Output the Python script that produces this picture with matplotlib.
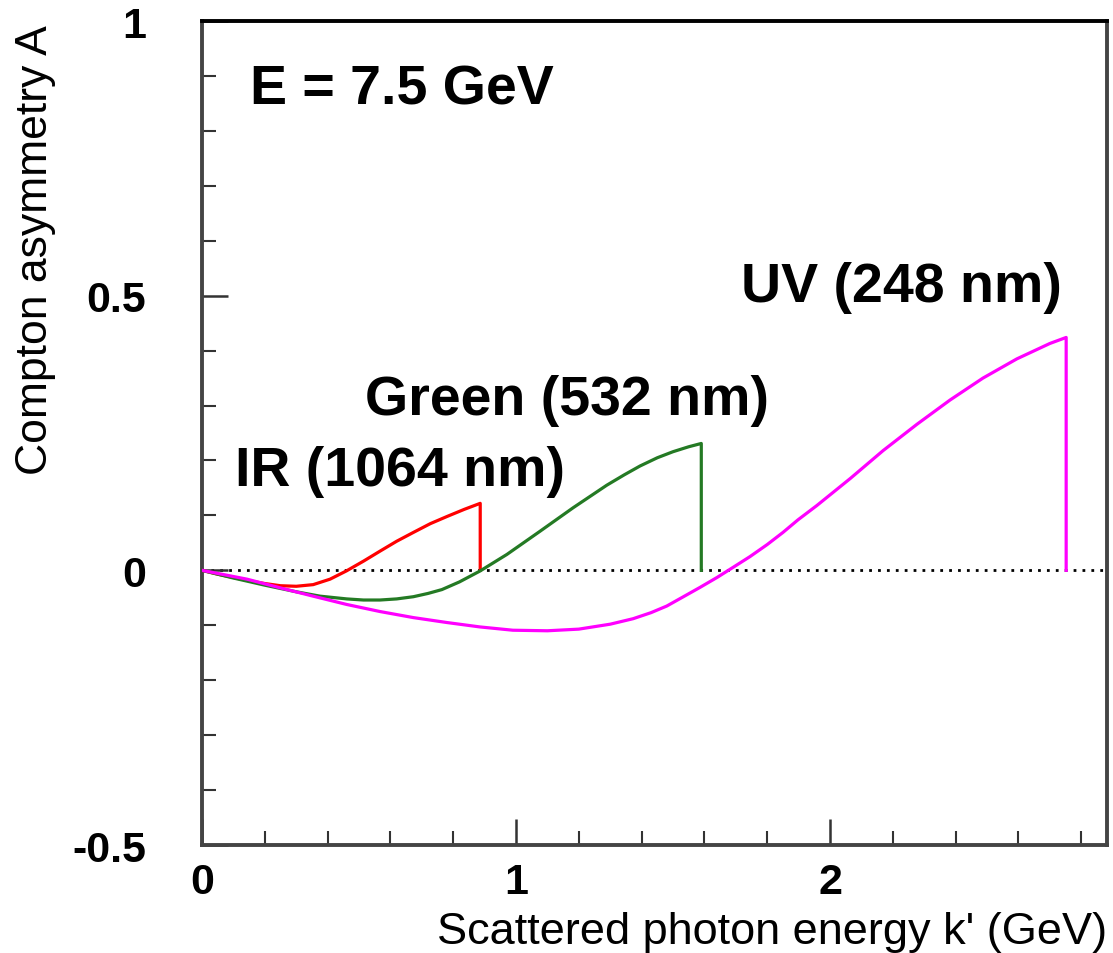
import matplotlib
matplotlib.use("Agg")
import matplotlib.pyplot as plt
from matplotlib.ticker import MultipleLocator

plt.rcParams['font.family'] = ['Liberation Sans', 'DejaVu Sans']

# Data
ir_k = [0, 0.05, 0.1, 0.15, 0.2, 0.25, 0.3, 0.354, 0.408, 0.46, 0.515, 0.567,
        0.62, 0.673, 0.727, 0.78, 0.835, 0.886, 0.886]
ir_a = [0, -0.007, -0.013, -0.019, -0.024, -0.028, -0.029, -0.026, -0.016, -0.001,
        0.017, 0.035, 0.053, 0.069, 0.085, 0.098, 0.111, 0.122, 0.0]

green_k = [0, 0.1, 0.2, 0.3, 0.376, 0.461, 0.514, 0.567, 0.62, 0.673, 0.72, 0.764,
           0.82, 0.886, 0.971, 1.076, 1.182, 1.289, 1.345, 1.395, 1.45, 1.5, 1.55,
           1.59, 1.59]
green_a = [0, -0.014, -0.027, -0.039, -0.047, -0.052, -0.054, -0.054, -0.052, -0.048,
           -0.042, -0.035, -0.021, -0.001, 0.029, 0.071, 0.114, 0.155, 0.174, 0.19,
           0.205, 0.216, 0.225, 0.231, 0.0]

uv_k = [0, 0.143, 0.25, 0.354, 0.46, 0.567, 0.673, 0.78, 0.885, 0.99, 1.1, 1.2,
        1.3, 1.373, 1.43, 1.48, 1.53, 1.586, 1.64, 1.69, 1.745, 1.8, 1.85, 1.898,
        1.958, 2.064, 2.169, 2.277, 2.382, 2.487, 2.595, 2.7, 2.752, 2.752]
uv_a = [0, -0.016, -0.032, -0.047, -0.062, -0.075, -0.086, -0.095, -0.103, -0.109,
        -0.11, -0.107, -0.098, -0.088, -0.077, -0.065, -0.049, -0.031, -0.013, 0.005,
        0.025, 0.047, 0.069, 0.092, 0.118, 0.167, 0.218, 0.266, 0.31, 0.35, 0.385,
        0.413, 0.424, 0.0]

labels = ["IR (1064 nm)", "Green (532 nm)", "UV (248 nm)"]
label_pos = [(0.105, 0.155), (0.52, 0.285), (1.715, 0.49)]
colors = ["#ff0000", "#247a24", "#ff00ff"]

fig = plt.figure(figsize=(11.13, 9.54), dpi=100)
ax = fig.add_axes([0.1815, 0.1132, 0.8131, 0.8637])

ax.axhline(0, color='black', lw=2.0, linestyle=(0, (1, 2.2)), zorder=1)
for k, a, c in zip([ir_k, green_k, uv_k], [ir_a, green_a, uv_a], colors):
    ax.plot(k, a, color=c, lw=2.3, zorder=3, solid_joinstyle='round')

for (x, y), t in zip(label_pos, labels):
    ax.text(x, y, t, fontsize=40, fontweight='bold', ha='left', va='baseline')
ax.text(0.153, 0.85, "E = 7.5 GeV", fontsize=40, fontweight='bold',
        ha='left', va='baseline')

ax.set_xlim(0, 2.882)
ax.set_ylim(-0.5, 1.0)
ax.xaxis.set_minor_locator(MultipleLocator(0.2))
ax.yaxis.set_minor_locator(MultipleLocator(0.1))
ax.set_yticks([-0.5, 0, 0.5, 1])
ax.set_yticklabels(["-0.5", "0", "0.5", "1"])
ax.set_xticks([0, 1, 2])
ax.set_xticklabels(["0", "1", "2"])

ax.tick_params(which='major', direction='in', length=19, width=1.8, color='#333333',
               labelsize=31)
ax.tick_params(which='minor', direction='in', length=10, width=1.5, color='#333333')
ax.tick_params(axis='y', which='major', pad=40)
ax.tick_params(axis='x', which='major', pad=12)
for lab in ax.get_xticklabels() + ax.get_yticklabels():
    lab.set_fontweight('bold')

for s in ['left', 'right', 'bottom']:
    ax.spines[s].set_color('#444444')
    ax.spines[s].set_linewidth(2.8)
ax.spines['top'].set_color('black')
ax.spines['top'].set_linewidth(2.8)

ax.set_xlabel("Scattered photon energy k' (GeV)", fontsize=32.5, ha='right', x=1.0,
              labelpad=7)
fig.text(36 / 1113, 1 - 25 / 954, "Compton asymmetry A", fontsize=32, rotation=90,
         ha='center', va='top')

fig.savefig("out.png", dpi=100)
